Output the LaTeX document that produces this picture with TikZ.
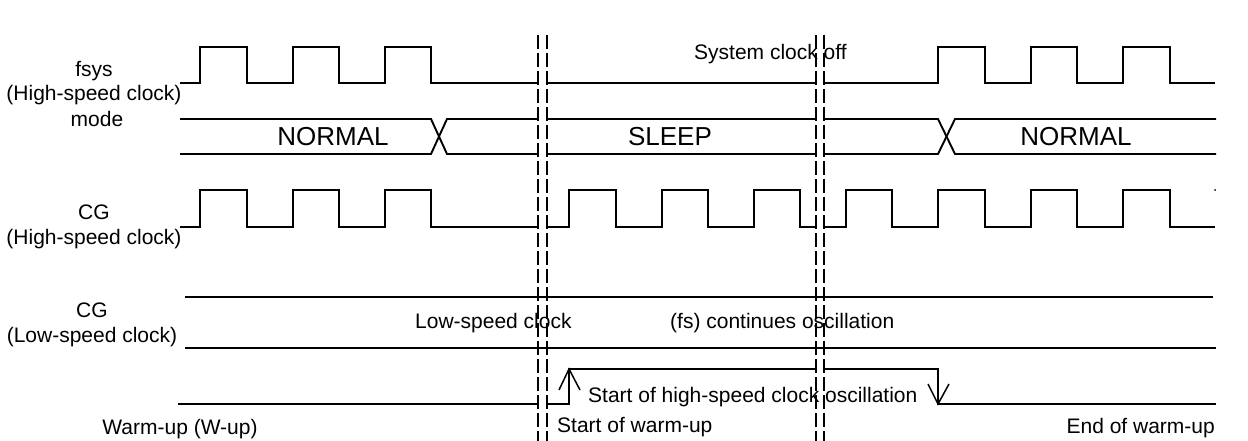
\documentclass[tikz,border=0pt]{standalone}
\usepackage{fontspec}
\setmainfont{Liberation Sans}
\begin{document}
\begin{tikzpicture}[x=1pt,y=-1pt,
  wave/.style={line width=1.9pt, line join=miter},
  brk/.style={line width=1.4pt, dash pattern=on 14pt off 4pt},
  lbl/.style={font=\fontsize{21}{24.5}\selectfont, align=center, inner sep=0pt},
  txt/.style={font=\fontsize{21}{23.5}\selectfont, inner sep=0pt},
  modetxt/.style={font=\fontsize{26}{28}\selectfont, inner sep=0pt}]
\useasboundingbox (0,0) rectangle (1248,441);

% ---------- row labels ----------
\node[lbl] (fsysL) at (94,83) {fsys\\(High-speed clock)};
\node[lbl] (modeL) at (97,119) {mode};
\node[lbl] (cghL) at (94,227) {CG\\(High-speed clock)};
\node[lbl] (cglL) at (92,325) {CG\\(Low-speed clock)};
\node[lbl] (wupL) at (180,429) {Warm-up (W-up)};

% ---------- fsys ----------
\draw[wave] (180,83) -- (200,83) -- (200,47) -- (247,47) -- (247,83) -- (293,83) -- (293,47) -- (339,47) -- (339,83) -- (385,83) -- (385,47) -- (431,47) -- (431,83) -- (538,83);
\draw[wave] (547,83) -- (816,83);
\draw[wave] (824,83) -- (938,83) -- (938,47) -- (985,47) -- (985,83) -- (1031,83) -- (1031,47) -- (1077,47) -- (1077,83) -- (1123,83) -- (1123,47) -- (1170,47) -- (1170,83) -- (1215,83);
\node[txt, anchor=west] (sysoff) at (694,54) {System clock off};

% ---------- mode ----------
\draw[wave] (180,119) -- (431,119) -- (447,154) -- (538,154);
\draw[wave] (180,154) -- (431,154) -- (447,119) -- (538,119);
\draw[wave] (547,119) -- (816,119);
\draw[wave] (547,154) -- (816,154);
\draw[wave] (824,119) -- (938,119) -- (955,154) -- (1216,154);
\draw[wave] (824,154) -- (938,154) -- (955,119) -- (1216,119);
\node[modetxt] (normal1) at (333,137) {NORMAL};
\node[modetxt] (sleep) at (670,137) {SLEEP};
\node[modetxt] (normal2) at (1076,137) {NORMAL};

% ---------- CG high-speed ----------
\draw[wave] (180,227) -- (200,227) -- (200,190) -- (247,190) -- (247,227) -- (293,227) -- (293,190) -- (339,190) -- (339,227) -- (385,227) -- (385,190) -- (431,190) -- (431,227) -- (538,227);
\draw[wave] (547,227) -- (569,227) -- (569,190) -- (616,190) -- (616,227) -- (662,227) -- (662,190) -- (708,190) -- (708,227) -- (754,227) -- (754,190) -- (800,190) -- (800,227) -- (816,227);
\draw[wave] (824,227) -- (846,227) -- (846,190) -- (892,190) -- (892,227) -- (938,227) -- (938,190) -- (985,190) -- (985,227) -- (1031,227) -- (1031,190) -- (1077,190) -- (1077,227) -- (1123,227) -- (1123,190) -- (1170,190) -- (1170,227) -- (1215,227);
\fill (1215,190) circle (1pt);

% ---------- CG low-speed ----------
\draw[wave] (185,297) -- (1213,297);
\draw[wave] (185,348) -- (1216,348);
\node[txt, anchor=west] (lsc) at (415,323) {Low-speed clock};
\node[txt, anchor=west] (cont) at (670,323) {(fs) continues oscillation};

% ---------- warm-up ----------
\draw[wave] (178,404) -- (538,404);
\draw[wave] (547,404) -- (569,404) -- (569,369) -- (816,369);
\draw[wave] (824,369) -- (938,369) -- (938,404) -- (1216,404);
\draw[wave, line width=1.5pt] (559,390) -- (569,369) -- (580,390);
\draw[wave, line width=1.5pt] (928,384) -- (938,404) -- (949,384);
\node[txt, anchor=west] (shs) at (588,397) {Start of high-speed clock oscillation};
\node[txt, anchor=west] (sow) at (557,427) {Start of warm-up};
\node[txt, anchor=east] (eow) at (1215,428) {End of warm-up};

% ---------- break lines ----------
\coordinate (b1t) at (538,35); \coordinate (b1b) at (538,441);
\coordinate (b2t) at (547,35); \coordinate (b2b) at (547,441);
\coordinate (b3t) at (816,35); \coordinate (b3b) at (816,441);
\coordinate (b4t) at (824,35); \coordinate (b4b) at (824,441);
\draw[brk] (b1t) -- (b1b);
\draw[brk] (b2t) -- (b2b);
\draw[brk] (b3t) -- (b3b);
\draw[brk] (b4t) -- (b4b);
\end{tikzpicture}
\end{document}
